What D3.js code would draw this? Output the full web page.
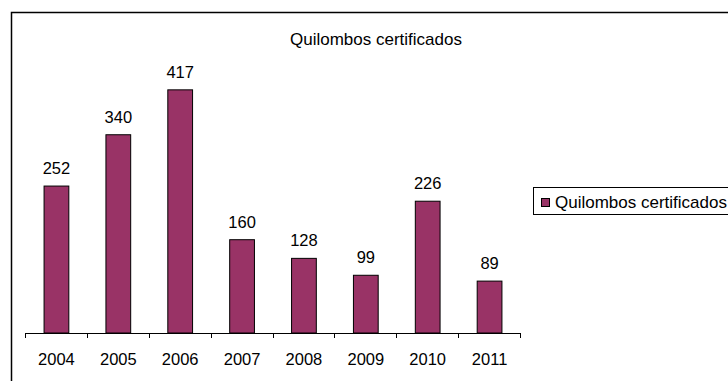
<!DOCTYPE html>
<html>
<head>
<meta charset="utf-8">
<script src="https://cdn.jsdelivr.net/npm/d3@7"></script>
<style>
  html, body { margin: 0; padding: 0; background: #fff; }
  svg { display: block; font-family: "Liberation Sans", Arial, sans-serif; }
</style>
</head>
<body>
<svg id="chart" width="728" height="381"></svg>
<script>
// Certified quilombo communities per year
const years = ["2004", "2005", "2006", "2007", "2008", "2009", "2010", "2011"];
const certified = [252, 340, 417, 160, 128, 99, 226, 89];
const seriesName = "Quilombos certificados";
const chartTitle = "Quilombos certificados";

const svg = d3.select("#chart");
const barColor = "#993366";

// Outer chart frame (runs past the right and bottom edges)
svg.append("rect")
  .attr("x", 11.5).attr("y", 12.5)
  .attr("width", 800).attr("height", 420)
  .attr("fill", "none").attr("stroke", "#000").attr("stroke-width", 1.5);

const plot = { left: 25, right: 520, top: 70.6, bottom: 333 };

const x = d3.scaleBand()
  .domain(years)
  .range([plot.left, plot.right])
  .paddingInner(0.6)
  .paddingOuter(0.3);

const y = d3.scaleLinear()
  .domain([0, 450])
  .range([plot.bottom, plot.top]);

// Title
svg.append("text")
  .attr("x", 376).attr("y", 45)
  .attr("text-anchor", "middle")
  .attr("font-size", 17)
  .text(chartTitle);

// Bars
svg.append("g").selectAll("rect")
  .data(years.map((yr, i) => ({ yr, v: certified[i] })))
  .join("rect")
  .attr("x", d => x(d.yr) + 0.5)
  .attr("y", d => y(d.v))
  .attr("width", x.bandwidth())
  .attr("height", d => y(0) - y(d.v))
  .attr("fill", barColor)
  .attr("stroke", "#000")
  .attr("stroke-width", 1);

// Value labels
svg.append("g").selectAll("text")
  .data(years.map((yr, i) => ({ yr, v: certified[i] })))
  .join("text")
  .attr("x", d => x(d.yr) + x.bandwidth() / 2 + 0.5)
  .attr("y", d => y(d.v) - 12)
  .attr("text-anchor", "middle")
  .attr("font-size", 16.5)
  .text(d => d.v);

// Category axis: labels centred, ticks on category boundaries
const axis = svg.append("g").attr("transform", `translate(0,${plot.bottom})`);
axis.call(d3.axisBottom(x).tickSize(0).tickPadding(0))
  .call(g => g.select(".domain").remove())
  .call(g => g.selectAll("text")
    .attr("font-family", "Liberation Sans, Arial, sans-serif")
    .attr("font-size", 16.5)
    .attr("fill", "#000")
    .attr("dy", null)
    .attr("y", 31.5)
    .attr("transform", `translate(0.5,0)`));

axis.append("line")
  .attr("x1", plot.left).attr("x2", plot.right)
  .attr("y1", 0.5).attr("y2", 0.5)
  .attr("stroke", "#000");

const bounds = d3.range(years.length + 1).map(i => plot.left + i * x.step());
axis.selectAll(".bound")
  .data(bounds)
  .join("line")
  .attr("class", "bound")
  .attr("x1", d => Math.round(d) + 0.5).attr("x2", d => Math.round(d) + 0.5)
  .attr("y1", 0).attr("y2", 5)
  .attr("stroke", "#000");

// Legend (partly beyond the right edge)
const legend = svg.append("g");
legend.append("rect")
  .attr("x", 533.5).attr("y", 187.5)
  .attr("width", 220).attr("height", 27)
  .attr("fill", "#fff").attr("stroke", "#000").attr("stroke-width", 1);
legend.append("rect")
  .attr("x", 541.5).attr("y", 198.5)
  .attr("width", 8).attr("height", 8)
  .attr("fill", barColor).attr("stroke", "#000");
legend.append("text")
  .attr("x", 555).attr("y", 207.5)
  .attr("font-size", 17)
  .text(seriesName);
</script>
</body>
</html>
